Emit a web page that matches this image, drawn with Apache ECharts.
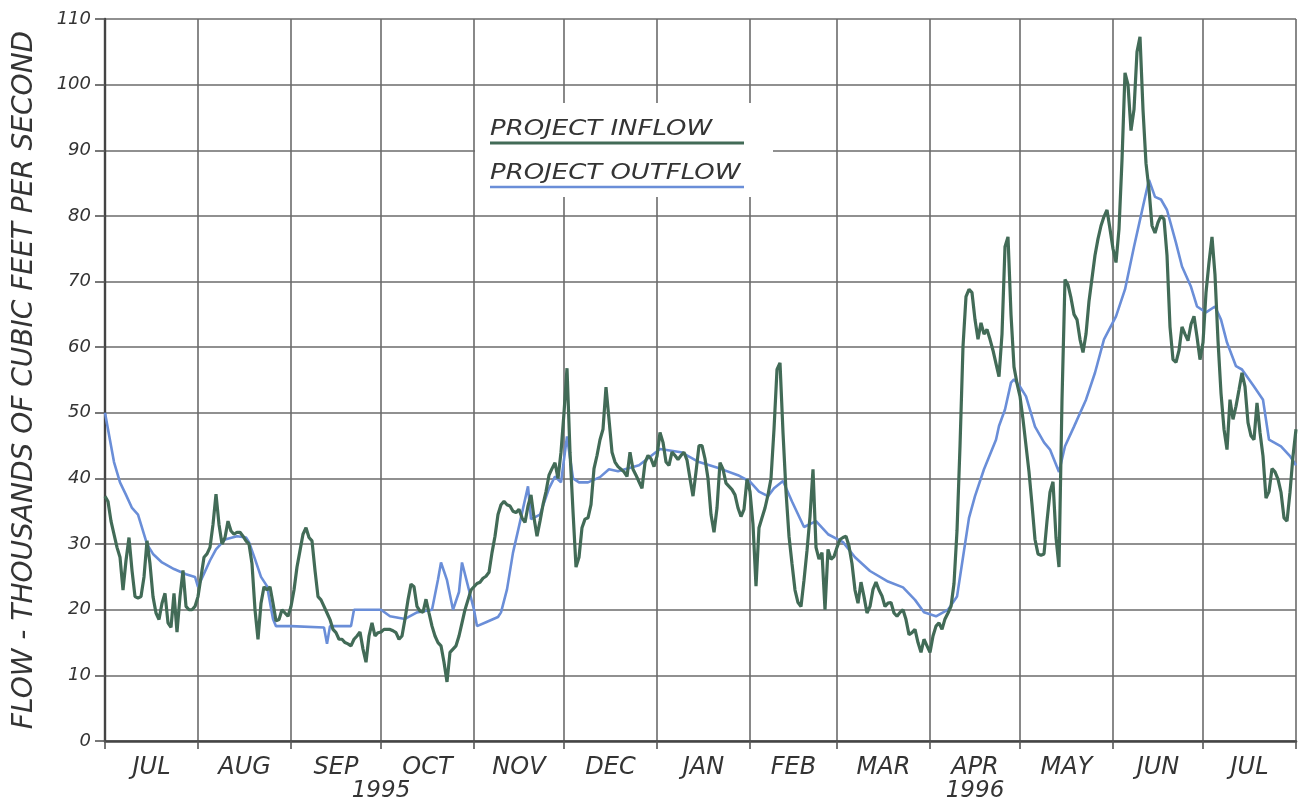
<!DOCTYPE html>
<html>
<head>
<meta charset="utf-8">
<title>Project Inflow and Outflow, 1995-1996</title>
<script src="https://cdn.jsdelivr.net/npm/echarts@6/dist/echarts.min.js"></script>
<style>
  html, body { margin: 0; padding: 0; background: #ffffff; }
  #chart { width: 1302px; height: 803px; }
</style>
</head>
<body>
<div id="chart"></div>
<script>
// Daily project inflow (thousands of cfs), one array per calendar month
const inflowStart = '1995-07-01';
const inflowJul95 = [37.3, 36.5, 33.5, 31.5, 29.5, 28, 23, 27.5, 31, 26,
  22, 21.8, 22, 25, 30.5, 27, 22, 19.5, 18.5, 21,
  22.5, 18, 17.3, 22.5, 16.6, 22, 26, 20.5, 20, 20, 20.5];
const inflowAug95 = [22, 25, 28, 28.5, 29.5, 33, 37.6, 33, 30, 31,
  33.5, 32, 31.5, 31.8, 31.8, 31.2, 30.5, 30, 27, 20,
  15.5, 21, 23.5, 23, 23.5, 21, 18.3, 18.5, 20, 19.5, 19];
const inflowSep95 = [20.5, 23, 26.5, 29, 31.5, 32.5, 31, 30.5, 26, 22,
  21.5, 20.5, 19.5, 18.5, 17, 16.5, 15.5, 15.5, 15, 14.8,
  14.5, 15.5, 16, 16.6, 14, 12, 16, 18, 16, 16.5];
const inflowOct95 = [16.6, 17, 17, 17, 16.8, 16.5, 15.5, 16, 18.6, 21.5,
  23.9, 23.5, 20.5, 19.8, 19.6, 21.6, 19.5, 17.5, 16, 15,
  14.5, 12, 9, 13.5, 14, 14.5, 16, 18, 20, 21.5, 23];
const inflowNov95 = [23.5, 24, 24.2, 24.8, 25.1, 25.7, 28.7, 31.2, 34.5, 36,
  36.5, 36, 35.8, 35, 34.8, 35.3, 34, 33.3, 35.8, 37.5,
  34, 31.2, 33.5, 36, 38, 40.5, 41.5, 42.4, 40, 44];
const inflowDec95 = [50, 56.8, 44, 35, 26.5, 28, 32.5, 33.8, 34, 36,
  41.5, 43.5, 45.9, 47.5, 53.9, 49, 44, 42.5, 41.8, 41.4,
  41, 40.3, 44, 41.4, 40.5, 39.5, 38.5, 42.4, 43.5, 43, 41.8];
const inflowJan96 = [43.4, 47, 45.5, 42.5, 42, 44, 43.5, 42.9, 43.5, 44,
  42.8, 40, 37.3, 41, 45, 45, 43, 40, 34.5, 31.8,
  35.5, 42.4, 41.4, 39.3, 38.8, 38.3, 37.5, 35.5, 34.2, 35.3, 39.9];
const inflowFeb96 = [38, 33, 23.6, 32.5, 34, 35.5, 37.5, 40, 47.5, 56.6,
  57.6, 47, 38, 31.2, 27, 23, 21.1, 20.5, 24.5, 29,
  34.2, 41.4, 29.5, 27.7, 28.7, 20, 29.2, 27.7, 28.1];
const inflowMar96 = [29.5, 30.7, 31, 31.2, 29.7, 27, 23, 21, 24.2, 22,
  19.5, 20.5, 23.1, 24.2, 23, 22.1, 20.5, 21, 21.1, 19.5,
  19, 19.6, 20, 18.5, 16.2, 16.5, 17, 15, 13.5, 15.5, 14.5];
const inflowApr96 = [13.5, 16, 17.5, 18, 17, 18.6, 19.5, 20.5, 24, 32,
  44.9, 60.1, 67.7, 68.8, 68.3, 64.2, 61.2, 63.7, 62, 62.7,
  61.2, 59.5, 57.5, 55.5, 62, 75.3, 76.8, 65, 57, 54.5];
const inflowMay96 = [52.5, 49, 45, 41, 36, 30.7, 28.5, 28.3, 28.5, 33.5,
  37.9, 39.5, 31, 26.5, 52, 70.3, 69.5, 67.5, 65, 64.2,
  61.2, 59.2, 62, 67, 70.5, 74, 76.5, 78.5, 79.9, 80.9, 78];
const inflowJun96 = [75, 72.9, 78, 88.5, 101.8, 100, 93, 96.2, 105, 107.3,
  96.2, 88, 84, 78.5, 77.4, 79, 80, 79.5, 74, 63.1,
  58.1, 57.7, 59.5, 63.1, 62, 61, 63.5, 64.7, 61.6, 58.1];
const inflowJul96 = [60.7, 68.3, 72.9, 76.8, 71, 61, 53, 47.5, 44.4, 52,
  49, 51, 53.5, 56.1, 54, 48.5, 46.5, 45.9, 51.5, 47,
  43.4, 37, 38, 41.5, 41, 39.9, 37.9, 34, 33.5, 37.9, 43.4];
const inflowAug96 = [47.5];

// Project outflow (thousands of cfs), [date, value]
const outflow = [
  ['1995-07-01', 50], ['1995-07-02', 47.5], ['1995-07-04', 42.5], ['1995-07-06', 39.4],
  ['1995-07-08', 37.5], ['1995-07-10', 35.5], ['1995-07-12', 34.5], ['1995-07-13', 33],
  ['1995-07-15', 30], ['1995-07-17', 28.5], ['1995-07-20', 27.2], ['1995-07-24', 26.2],
  ['1995-07-28', 25.4], ['1995-07-31', 25], ['1995-08-01', 23.5], ['1995-08-03', 25.5],
  ['1995-08-05', 27.5], ['1995-08-07', 29.2], ['1995-08-10', 30.7], ['1995-08-14', 31.2],
  ['1995-08-17', 31], ['1995-08-18', 30.3], ['1995-08-20', 27.7], ['1995-08-22', 25],
  ['1995-08-24', 23.6], ['1995-08-26', 18.6], ['1995-08-27', 17.5], ['1995-09-01', 17.5],
  ['1995-09-12', 17.3], ['1995-09-13', 14.8], ['1995-09-14', 17.5], ['1995-09-21', 17.5],
  ['1995-09-22', 20], ['1995-10-01', 20], ['1995-10-04', 19], ['1995-10-09', 18.6],
  ['1995-10-13', 19.6], ['1995-10-18', 20], ['1995-10-20', 24.6], ['1995-10-21', 27.2],
  ['1995-10-23', 24.5], ['1995-10-25', 20], ['1995-10-27', 22.7], ['1995-10-28', 27.2],
  ['1995-10-30', 23.6], ['1995-11-01', 20], ['1995-11-02', 17.5], ['1995-11-05', 18.1],
  ['1995-11-09', 18.9], ['1995-11-10', 19.6], ['1995-11-12', 23.1], ['1995-11-14', 28.7],
  ['1995-11-16', 32.7], ['1995-11-19', 38.8], ['1995-11-20', 33.8], ['1995-11-23', 34.5],
  ['1995-11-26', 38.5], ['1995-11-28', 40.3], ['1995-11-30', 39.4], ['1995-12-02', 46.4],
  ['1995-12-04', 40], ['1995-12-06', 39.4], ['1995-12-09', 39.4], ['1995-12-13', 40.2],
  ['1995-12-16', 41.4], ['1995-12-19', 41.1], ['1995-12-26', 42], ['1996-01-02', 44.5],
  ['1996-01-09', 44], ['1996-01-15', 42.5], ['1996-01-22', 41.5], ['1996-01-28', 40.5],
  ['1996-02-01', 39.5], ['1996-02-04', 38], ['1996-02-07', 37.3], ['1996-02-09', 38.5],
  ['1996-02-12', 39.6], ['1996-02-15', 36.5], ['1996-02-19', 32.6], ['1996-02-23', 33.5],
  ['1996-02-27', 31.5], ['1996-03-03', 30.3], ['1996-03-07', 28], ['1996-03-12', 25.9],
  ['1996-03-18', 24.3], ['1996-03-23', 23.4], ['1996-03-27', 21.5], ['1996-03-30', 19.6],
  ['1996-04-03', 19], ['1996-04-07', 20], ['1996-04-10', 22], ['1996-04-12', 28],
  ['1996-04-14', 34], ['1996-04-16', 37.3], ['1996-04-19', 41.4], ['1996-04-23', 45.9],
  ['1996-04-24', 48], ['1996-04-26', 50.5], ['1996-04-28', 54.6], ['1996-04-29', 55.1],
  ['1996-05-01', 54], ['1996-05-03', 52.5], ['1996-05-06', 47.9], ['1996-05-09', 45.5],
  ['1996-05-11', 44.4], ['1996-05-14', 41], ['1996-05-16', 44.9], ['1996-05-19', 47.9],
  ['1996-05-23', 52], ['1996-05-26', 56.1], ['1996-05-29', 61.2], ['1996-06-02', 64.7],
  ['1996-06-05', 68.8], ['1996-06-08', 75.3], ['1996-06-10', 79.4], ['1996-06-12', 83.5],
  ['1996-06-13', 85.5], ['1996-06-15', 82.9], ['1996-06-17', 82.5], ['1996-06-19', 80.9],
  ['1996-06-22', 75.9], ['1996-06-24', 72.3], ['1996-06-27', 69.2], ['1996-06-29', 66.2],
  ['1996-07-02', 65.3], ['1996-07-05', 66.2], ['1996-07-07', 64.2], ['1996-07-09', 60.7],
  ['1996-07-12', 57.1], ['1996-07-14', 56.6], ['1996-07-18', 54], ['1996-07-21', 52],
  ['1996-07-23', 45.9], ['1996-07-27', 44.9], ['1996-07-30', 43.4], ['1996-08-01', 42]
];

// Axis ticks and labels
const monthStarts = ['1995-07-01', '1995-08-01', '1995-09-01', '1995-10-01', '1995-11-01',
  '1995-12-01', '1996-01-01', '1996-02-01', '1996-03-01', '1996-04-01', '1996-05-01',
  '1996-06-01', '1996-07-01', '1996-08-01'];
const monthLabels = ['JUL', 'AUG', 'SEP', 'OCT', 'NOV', 'DEC', 'JAN', 'FEB', 'MAR', 'APR',
  'MAY', 'JUN', 'JUL'];
const yearMarks = [['1995-10-01', '1995'], ['1996-04-16', '1996']];
const seriesNames = ['PROJECT INFLOW', 'PROJECT OUTFLOW'];
const yAxisTitle = 'FLOW - THOUSANDS OF CUBIC FEET PER SECOND';

const INFLOW_COLOR = '#426b57';
const OUTFLOW_COLOR = '#6a8ed8';
const GRID_COLOR = '#6b6b6b';
const TEXT_COLOR = '#343434';
const FONT = '"DejaVu Sans", "Liberation Sans", sans-serif';

// Dates are kept on a linear axis as day numbers counted from the record start
const DAY = 24 * 3600 * 1000;
function toTime(s) {
  const [y, m, d] = s.split('-').map(Number);
  return Date.UTC(y, m - 1, d);
}
const t0 = toTime(inflowStart);
const toDay = s => Math.round((toTime(s) - t0) / DAY);

const inflowMonths = [inflowJul95, inflowAug95, inflowSep95, inflowOct95, inflowNov95,
  inflowDec95, inflowJan96, inflowFeb96, inflowMar96, inflowApr96, inflowMay96,
  inflowJun96, inflowJul96, inflowAug96];
const inflowData = [];
inflowMonths.forEach(month => month.forEach(v => inflowData.push([inflowData.length, v])));
const outflowData = outflow.map(([d, v]) => [toDay(d), v]);

const monthStartDays = monthStarts.map(toDay);
const monthMidDays = monthLabels.map((_, i) => (monthStartDays[i] + monthStartDays[i + 1]) / 2);
const yearDays = yearMarks.map(([d]) => toDay(d));
const xMin = monthStartDays[0];
const xMax = monthStartDays[monthStartDays.length - 1];

function labelAt(days, labels, value) {
  for (let i = 0; i < days.length; i++) {
    if (Math.abs(days[i] - value) < 0.01) return labels[i];
  }
  return '';
}

const labelStyle = {
  fontFamily: FONT,
  fontStyle: 'italic',
  color: TEXT_COLOR
};

const chart = echarts.init(document.getElementById('chart'), null, { renderer: 'canvas' });

chart.setOption({
  backgroundColor: '#ffffff',
  animation: false,
  grid: { left: 105, right: 6, top: 19, bottom: 61 },
  xAxis: [
    {
      // month boundaries: ticks and vertical grid lines
      type: 'value',
      position: 'bottom',
      min: xMin,
      max: xMax,
      axisLine: { show: true, onZero: false, lineStyle: { color: '#444', width: 2.6 } },
      axisTick: {
        show: true,
        customValues: monthStartDays,
        length: 8,
        lineStyle: { color: '#555', width: 1.6 }
      },
      axisLabel: { show: false },
      splitLine: { show: true, lineStyle: { color: GRID_COLOR, width: 1.6 } }
    },
    {
      // month names centred in each month
      type: 'value',
      position: 'bottom',
      min: xMin,
      max: xMax,
      axisLine: { show: false, onZero: false },
      axisTick: { show: false },
      splitLine: { show: false },
      axisLabel: Object.assign({
        customValues: monthMidDays,
        fontSize: 24,
        lineHeight: 24,
        margin: 15,
        formatter: v => labelAt(monthMidDays, monthLabels, v)
      }, labelStyle)
    },
    {
      // years below the month names
      type: 'value',
      position: 'bottom',
      min: xMin,
      max: xMax,
      axisLine: { show: false, onZero: false },
      axisTick: { show: false },
      splitLine: { show: false },
      axisLabel: Object.assign({
        customValues: yearDays,
        fontSize: 23,
        lineHeight: 24,
        margin: 38,
        formatter: v => labelAt(yearDays, yearMarks.map(y => y[1]), v)
      }, labelStyle)
    }
  ],
  yAxis: {
    type: 'value',
    min: 0,
    max: 110,
    interval: 10,
    name: yAxisTitle,
    nameLocation: 'middle',
    nameRotate: 90,
    nameGap: 66,
    nameTextStyle: Object.assign({ fontSize: 28 }, labelStyle),
    axisLine: { show: true, lineStyle: { color: '#444', width: 2.4 } },
    axisTick: { show: true, length: 10, lineStyle: { color: '#555', width: 1.6 } },
    axisLabel: Object.assign({ fontSize: 18, margin: 14 }, labelStyle),
    splitLine: { show: true, lineStyle: { color: GRID_COLOR, width: 1.6 } }
  },
  graphic: {
    elements: [
      {
        type: 'rect', z: 5,
        shape: { x: 475, y: 103, width: 298, height: 94 },
        style: { fill: '#ffffff' }
      },
      {
        type: 'text', z: 6, x: 490, y: 129, scaleX: 1.18,
        style: {
          text: seriesNames[0], fill: TEXT_COLOR, verticalAlign: 'middle',
          font: 'italic 22px ' + FONT
        }
      },
      {
        type: 'line', z: 6,
        shape: { x1: 490, y1: 143, x2: 744, y2: 143 },
        style: { stroke: INFLOW_COLOR, lineWidth: 3 }
      },
      {
        type: 'text', z: 6, x: 490, y: 173, scaleX: 1.18,
        style: {
          text: seriesNames[1], fill: TEXT_COLOR, verticalAlign: 'middle',
          font: 'italic 22px ' + FONT
        }
      },
      {
        type: 'line', z: 6,
        shape: { x1: 490, y1: 187, x2: 744, y2: 187 },
        style: { stroke: OUTFLOW_COLOR, lineWidth: 2.6 }
      }
    ]
  },
  series: [
    {
      name: seriesNames[1],
      type: 'line',
      xAxisIndex: 0,
      data: outflowData,
      showSymbol: false,
      symbol: 'none',
      lineStyle: { color: OUTFLOW_COLOR, width: 2.6 },
      z: 3
    },
    {
      name: seriesNames[0],
      type: 'line',
      xAxisIndex: 0,
      data: inflowData,
      showSymbol: false,
      symbol: 'none',
      lineStyle: { color: INFLOW_COLOR, width: 3.2 },
      z: 4
    }
  ]
});
</script>
</body>
</html>
